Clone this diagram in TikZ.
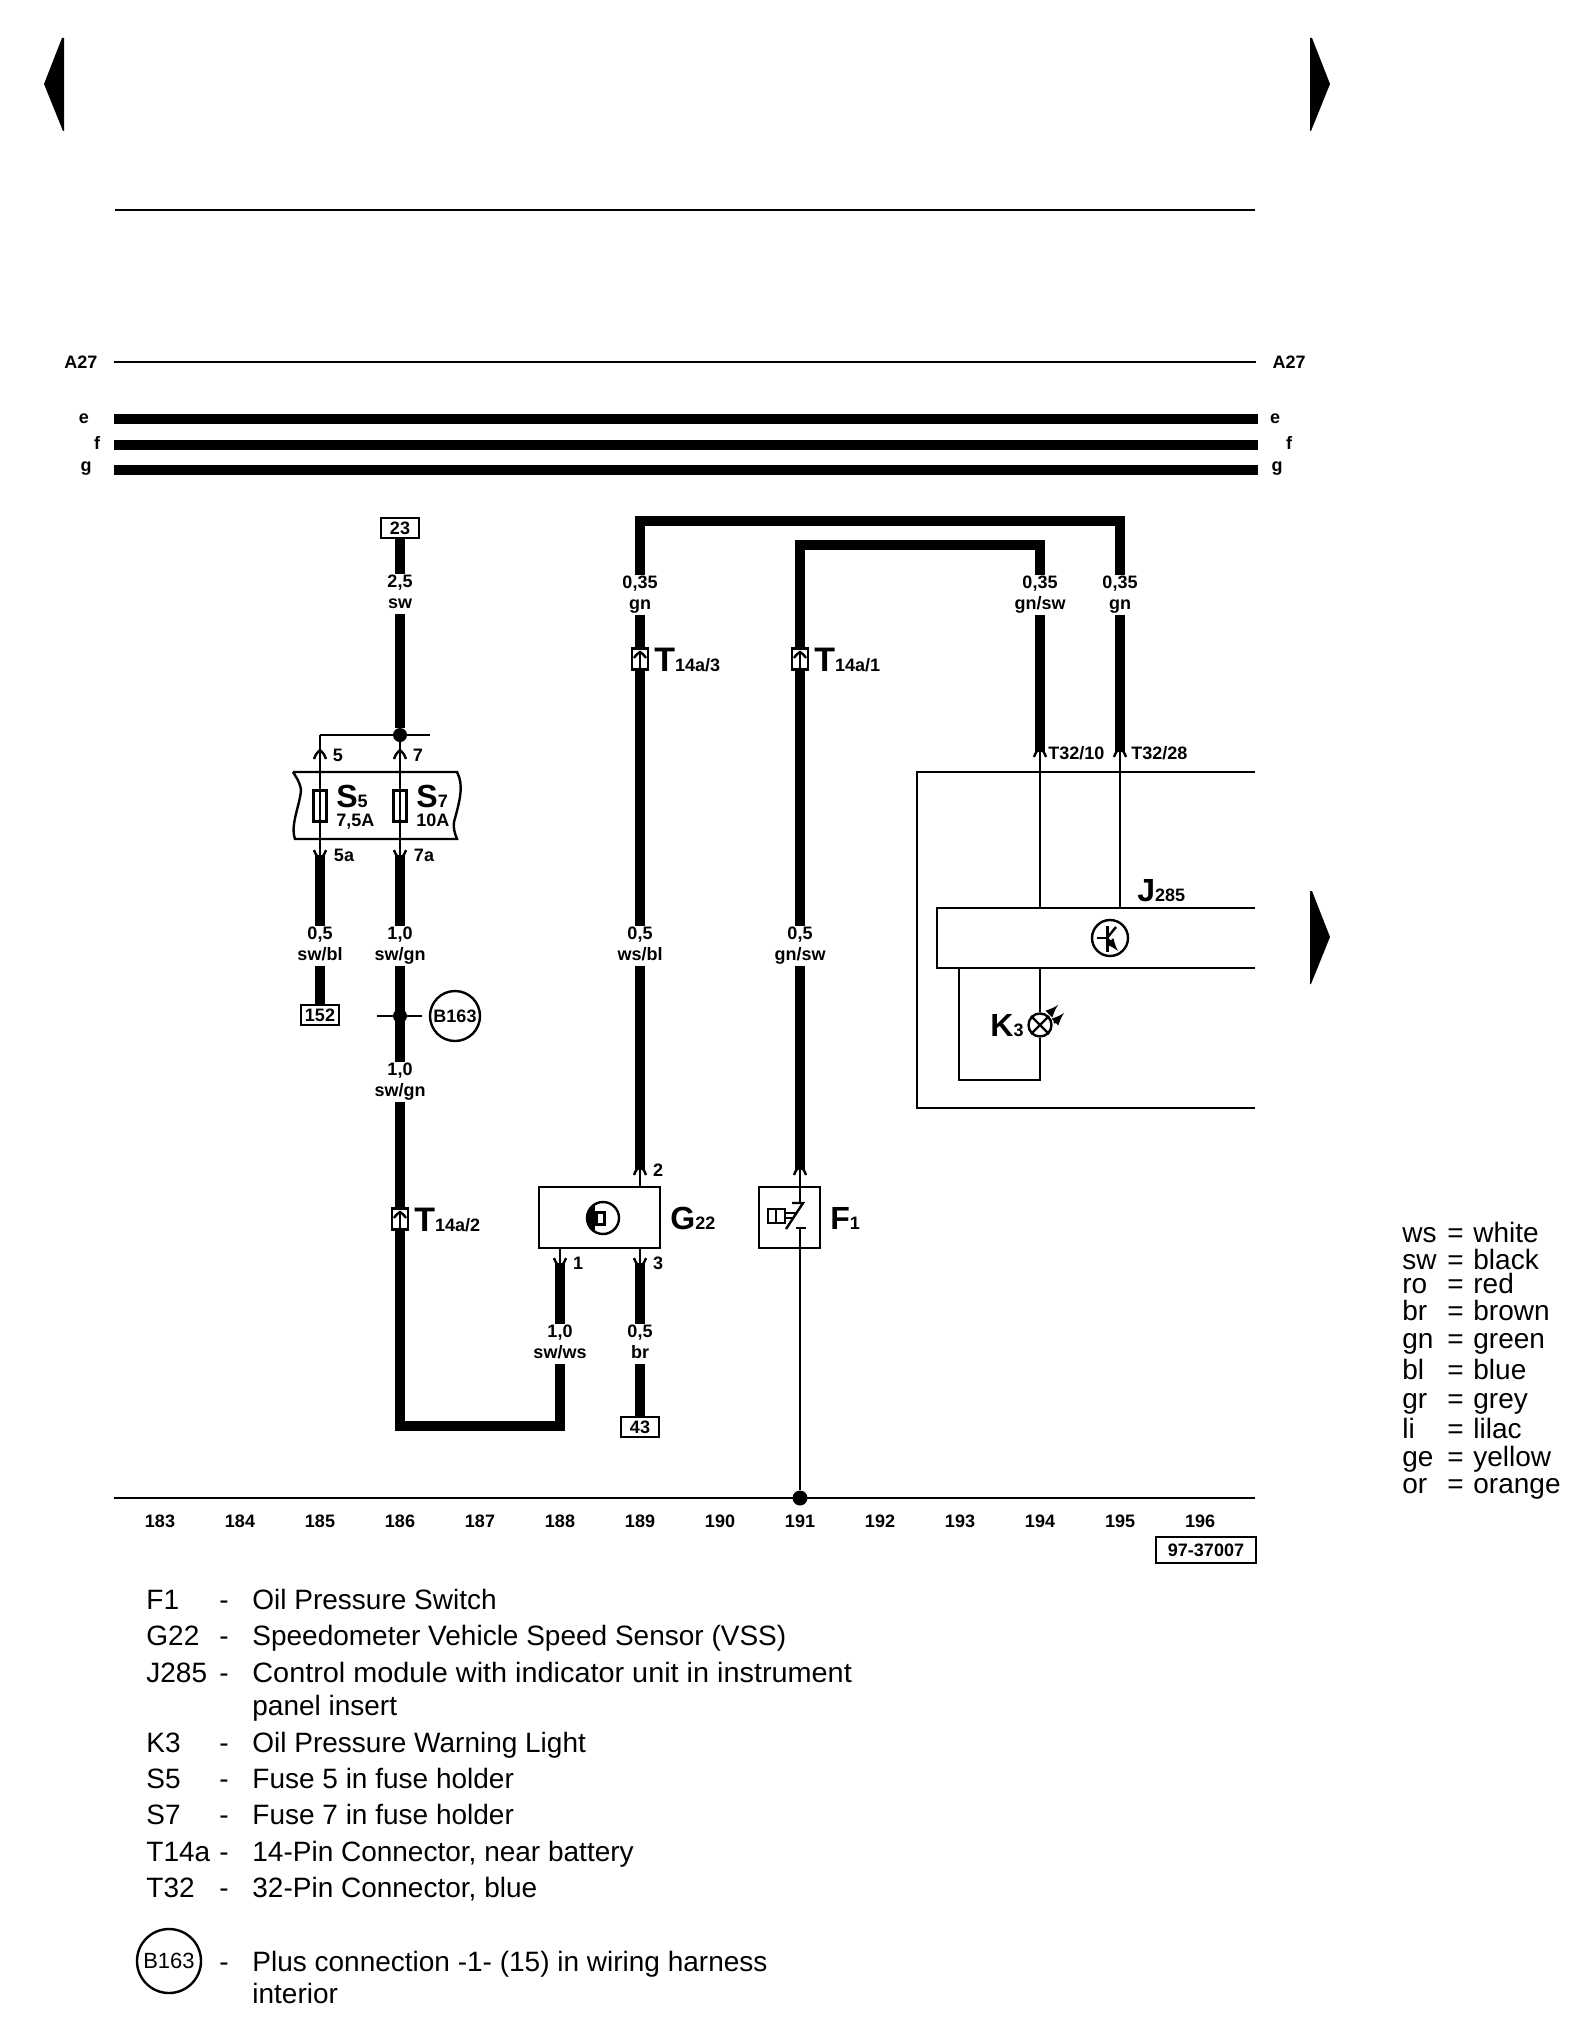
\documentclass[tikz,border=0pt]{standalone}
\usepackage{fontspec}
\setmainfont{Liberation Sans}
\usetikzlibrary{positioning}
\newcommand{\bigsub}[3][16]{{\fontsize{#1}{#1}\selectfont\bfseries #2}{\fontsize{9}{9}\selectfont\bfseries #3}}
\tikzset{
  wire/.style={line width=5pt},
  rail/.style={line width=5pt},
  thinwire/.style={line width=1.2pt},
  gauge/.style={font=\fontsize{9}{10.5}\selectfont\bfseries,align=center,inner sep=0pt,outer sep=0pt,minimum height=20pt,execute at end node=\vphantom{g}},
  tiny label/.style={font=\fontsize{9}{10}\selectfont\bfseries,inner sep=0pt},
  termbox/.style={draw,line width=1.3pt,minimum width=19pt,minimum height=10pt,inner sep=0pt,font=\fontsize{9}{9}\selectfont\bfseries},
  plug/.style={draw,fill=white,line width=1.4pt,minimum width=8pt,minimum height=10.5pt,inner sep=0pt},
  dot/.style={circle,fill,inner sep=0pt,minimum size=7pt},
  legendtext/.style={font=\fontsize{14}{14}\selectfont,anchor=base west,inner sep=0pt},
  pinup/.pic={\draw[line width=1.2pt,line join=round] (-6,5) .. controls (-4,0) .. (0,-4) .. controls (4,0) .. (6,5);},
  pindown/.pic={\draw[line width=1.2pt,line join=round] (-6,-5) .. controls (-4,0) .. (0,4) .. controls (4,0) .. (6,-5);},
  plugmark/.pic={\draw[line width=1.2pt] (-6,-1) .. controls (-3,-5) .. (0,-7) .. controls (3,-5) .. (6,-1); \draw[line width=1.2pt] (0,-7) -- (0,9);}
}
\begin{document}
\begin{tikzpicture}[x=0.5pt,y=-0.5pt]
\useasboundingbox (0,0) rectangle (1584,2028);
% page arrows
\fill (44,84) -- (62,38) -- (64,38) -- (64,131) -- (63,131) -- cycle;
\fill (1330,84) -- (1312,38) -- (1310,38) -- (1310,131) -- (1311,131) -- cycle;
\fill (1330,937) -- (1312,891) -- (1310,891) -- (1310,984) -- (1311,984) -- cycle;
% top lines
\coordinate (headL) at (115,210);
\coordinate (headR) at (1255,210);
\draw[thinwire] (headL) -- (headR);
\node[tiny label] (a27L) at (81,362) {A27};
\node[tiny label] (a27R) at (1289,362) {A27};
\coordinate (a27Lend) at (114,362);
\coordinate (a27Rend) at (1256,362);
\draw[thinwire] (a27Lend) -- (a27Rend);
\coordinate (eL) at (114,419); \coordinate (eR) at (1258,419);
\coordinate (fL) at (114,445); \coordinate (fR) at (1258,445);
\coordinate (gL) at (114,470); \coordinate (gR) at (1258,470);
\draw[rail] (eL) -- (eR);
\draw[rail] (fL) -- (fR);
\draw[rail] (gL) -- (gR);
\node[tiny label] at (84,419) {e};
\node[tiny label] at (97,443) {f};
\node[tiny label] at (86,469) {g};
\node[tiny label] at (1275,419) {e};
\node[tiny label] at (1289,443) {f};
\node[tiny label] at (1277,469) {g};
% bottom line and column numbers
\coordinate (busL) at (114,1498);
\coordinate (busR) at (1255,1498);
\draw[thinwire] (busL) -- (busR);
\foreach \n in {183,...,196}
  \node[tiny label] (col\n) at ({160+80*(\n-183)},1521) {\n};
\node[termbox,minimum width=50pt,minimum height=13pt,line width=1pt] (docno) at (1206,1550) {97-37007};
% column 186 feed
\node[termbox] (t23) at (400,528) {23};
\node[gauge] (g23) at (400,594) {2,5\\sw};
\node[dot] (j1) at (400,735) {};
\draw[wire] (t23) -- (g23);
\draw[wire] (g23) -- (j1);
\coordinate (busS5) at (320,735);
\coordinate (busS7) at (430,735);
\draw[thinwire] (busS5) -- (busS7);
% fuse holder
\draw[line width=1.2pt] (293,772) -- (457,772) .. controls (464,785) and (460,800) .. (454,822) .. controls (453,828) and (455,834) .. (457,839)
  -- (295,839) .. controls (290,825) and (300,805) .. (301,790) .. controls (300,782) and (296,777) .. (293,772);
\node[draw,line width=1.2pt,minimum width=6.5pt,minimum height=15.5pt,inner sep=0pt] (fuse5) at (320,806) {};
\node[draw,line width=1.2pt,minimum width=6.5pt,minimum height=15.5pt,inner sep=0pt] (fuse7) at (400,806) {};
\coordinate (pin5) at (320,754); \coordinate (pin7) at (400,754);
\coordinate (pin5a) at (320,855); \coordinate (pin7a) at (400,855);
\draw[thinwire] (busS5) -- (pin5a);
\draw[thinwire] (j1) -- (pin7a);
\pic at (pin5) {pinup};
\pic at (pin7) {pinup};
\pic at (pin5a) {pindown};
\pic at (pin7a) {pindown};
\node[tiny label] at (338,755) {5};
\node[tiny label] at (418,755) {7};
\node[tiny label] at (344,855) {5a};
\node[tiny label] at (424,855) {7a};
\node[inner sep=0pt,anchor=base west] (s5) at (336,807) {\bigsub{S}{5}};
\node[inner sep=0pt,anchor=base west] (s7) at (416,807) {\bigsub{S}{7}};
\node[tiny label,anchor=base west] at (336,826) {7,5A};
\node[tiny label,anchor=base west] at (416,826) {10A};
% below the fuses
\node[gauge] (g5a) at (320,946) {0,5\\sw/bl};
\node[gauge] (g7a) at (400,946) {1,0\\sw/gn};
\node[termbox] (t152) at (320,1015) {152};
\draw[wire] (pin5a) -- (g5a);
\draw[wire] (g5a) -- (t152);
\draw[wire] (pin7a) -- (g7a);
\node[gauge] (g186) at (400,1082) {1,0\\sw/gn};
\draw[wire] (g7a) -- (g186);
\coordinate (crossL) at (377,1016); \coordinate (crossR) at (422,1016);
\draw[thinwire] (crossL) -- (crossR);
\node[dot] (j2) at (400,1016) {};
\node[draw,circle,line width=1.2pt,minimum size=25pt,inner sep=0pt,font=\fontsize{9}{9}\selectfont\bfseries] (b163) at (455,1016) {B163};
\node[plug] (t14a2) at (400,1219) {};
\pic at (t14a2) {plugmark};
\node[anchor=base west,inner sep=0pt] at (414,1231) {\bigsub[17]{T}{14a/2}};
\coordinate (lowL) at (400,1426);
\coordinate (lowR) at (560,1426);
\node[gauge] (g188) at (560,1344) {1,0\\sw/ws};
\draw[wire] (g186) -- (t14a2) -- (lowL) -- (lowR) -- (g188);
% G22
\node[draw,line width=1.2pt,minimum width=60.5pt,minimum height=30.5pt,inner sep=0pt] (g22) at (599.5,1217.5) {};
\node[anchor=base west,inner sep=0pt] at (670,1229) {\bigsub{G}{22}};
\draw[line width=1.2pt] (603,1218) circle (16);
\begin{scope}
  \clip (603,1218) circle (16);
  \fill (587,1200) rectangle (595,1236);
\end{scope}
\draw[line width=1.5pt] (596,1212) rectangle (604,1224);
\coordinate (pin2) at (640,1170);
\coordinate (pin1) at (560,1263);
\coordinate (pin3) at (640,1263);
\draw[thinwire] (pin2) -- (pin2 |- g22.north);
\draw[thinwire] (pin1 |- g22.south) -- (pin1);
\draw[thinwire] (pin3 |- g22.south) -- (pin3);
\pic at (pin2) {pinup};
\pic at (pin1) {pindown};
\pic at (pin3) {pindown};
\node[tiny label] at (658,1170) {2};
\node[tiny label] at (578,1263) {1};
\node[tiny label] at (658,1263) {3};
\draw[wire] (pin1) -- (g188);
\node[gauge] (g189b) at (640,1344) {0,5\\br};
\node[termbox] (t43) at (640,1427) {43};
\draw[wire] (pin3) -- (g189b);
\draw[wire] (g189b) -- (t43);
% column 189 up to J285
\node[gauge] (g189a) at (640,946) {0,5\\ws/bl};
\node[plug] (t14a3) at (640,659) {};
\pic at (t14a3) {plugmark};
\node[anchor=base west,inner sep=0pt] at (654,671) {\bigsub[17]{T}{14a/3}};
\node[gauge] (g189t) at (640,595) {0,35\\gn};
\node[gauge] (g195) at (1120,595) {0,35\\gn};
\coordinate (topA) at (640,521);
\coordinate (topB) at (1120,521);
\coordinate (pin28) at (1120,752);
\draw[wire] (pin2) -- (g189a);
\draw[wire] (g189a) -- (t14a3) -- (g189t);
\draw[wire] (g189t) -- (topA) -- (topB) -- (g195);
\draw[wire] (g195) -- (pin28);
% column 191 up to J285
\node[gauge] (g191) at (800,946) {0,5\\gn/sw};
\node[plug] (t14a1) at (800,659) {};
\pic at (t14a1) {plugmark};
\node[anchor=base west,inner sep=0pt] at (814,671) {\bigsub[17]{T}{14a/1}};
\node[gauge] (g194) at (1040,595) {0,35\\gn/sw};
\coordinate (topC) at (800,545);
\coordinate (topD) at (1040,545);
\coordinate (pin10) at (1040,752);
\coordinate (pinF) at (800,1170);
\draw[wire] (pinF) -- (g191);
\draw[wire] (g191) -- (t14a1) -- (topC) -- (topD) -- (g194);
\draw[wire] (g194) -- (pin10);
% F1
\node[draw,line width=1.2pt,minimum width=30.5pt,minimum height=30.5pt,inner sep=0pt] (f1) at (789.5,1217.5) {};
\node[anchor=base west,inner sep=0pt] at (830,1229) {\bigsub{F}{1}};
\coordinate (swTop) at (800,1203);
\coordinate (swBot) at (800,1228);
\node[dot,minimum size=7.5pt] (j3) at (800,1498) {};
\draw[thinwire] (pinF) -- (swTop);
\draw[thinwire] (swBot) -- (j3);
\pic at (pinF) {pinup};
\draw[thinwire] (792,1203) -- (803,1203) -- (786,1229);
\draw[thinwire] (796,1228) -- (806,1228);
\draw[thinwire] (768,1209) rectangle (785,1223);
\draw[thinwire] (776,1209) -- (776,1223);
\draw[thinwire] (785,1213) -- (797,1213);
\draw[thinwire] (785,1218) -- (794,1218);
% instrument panel
\coordinate (panelTR) at (1255,772);
\coordinate (panelTL) at (917,772);
\coordinate (panelBL) at (917,1108);
\coordinate (panelBR) at (1255,1108);
\draw[thinwire] (panelTR) -- (panelTL) -- (panelBL) -- (panelBR);
\coordinate (jTR) at (1255,908);
\coordinate (jTL) at (937,908);
\coordinate (jBL) at (937,968);
\coordinate (jBR) at (1255,968);
\draw[thinwire] (jTR) -- (jTL) -- (jBL) -- (jBR);
\draw[thinwire] (pin10) -- (pin10 |- jTL);
\draw[thinwire] (pin28) -- (pin28 |- jTL);
\pic at (pin10) {pinup};
\pic at (pin28) {pinup};
\node[tiny label,anchor=west] at (1048,753) {T32/10};
\node[tiny label,anchor=west] at (1131,753) {T32/28};
\node[anchor=base west,inner sep=0pt] at (1137,901) {\bigsub{J}{285}};
% J285 transistor
\draw[thinwire] (1110,938) circle (18);
\draw[thinwire] (1097,938) -- (1107,938);
\draw[line width=1.5pt] (1107,926) -- (1107,952);
\draw[thinwire] (1107,938) -- (1116,927);
\draw[thinwire,-latex] (1107,938) -- (1118,951);
% K3
\node[draw,circle,line width=1.2pt,minimum size=11.5pt,inner sep=0pt] (k3) at (1040,1025) {};
\draw[thinwire] (k3.north west) -- (k3.south east);
\draw[thinwire] (k3.north east) -- (k3.south west);
\coordinate (k3A) at (1040,1080);
\coordinate (k3B) at (959,1080);
\coordinate (k3C) at (959,968);
\coordinate (k3D) at (1040,968);
\draw[thinwire] (k3D) -- (k3);
\draw[thinwire] (k3) -- (k3A) -- (k3B) -- (k3C);
\draw[thinwire,-latex] (1049,1014) -- (1058,1005);
\draw[thinwire,-latex] (1054,1023) -- (1064,1013);
\node[anchor=base west,inner sep=0pt] at (990,1036) {\bigsub{K}{3}};
% colour key
\foreach \y/\a/\b in {1242/ws/white,1269/sw/black,1293/ro/red,1320/br/brown,1348/gn/green,1379/bl/blue,1408/gr/grey,1438/li/lilac,1466/ge/yellow,1493/or/orange}{
  \node[legendtext] at (1402,\y) {\a};
  \node[legendtext] at (1447,\y) {=};
  \node[legendtext] at (1473,\y) {\b};
}
% component list
\foreach \y/\a/\b in {1609/F1/Oil Pressure Switch,1645/G22/Speedometer Vehicle Speed Sensor (VSS),1752/K3/Oil Pressure Warning Light,1788/S5/Fuse 5 in fuse holder,1824/S7/Fuse 7 in fuse holder,1861/T14a/14-Pin Connector{,} near battery,1897/T32/32-Pin Connector{,} blue}{
  \node[legendtext] at (146,\y) {\a};
  \node[legendtext] at (219,\y) {-};
  \node[legendtext] at (252,\y) {\b};
}
\node[legendtext] at (146,1682) {J285};
\node[legendtext] at (219,1682) {-};
\node[legendtext,xscale=1.03,transform shape] at (252,1682) {Control module with indicator unit in instrument};
\node[legendtext] at (252,1715) {panel insert};
\node[draw,circle,line width=1.2pt,minimum size=32pt,inner sep=0pt,font=\fontsize{11}{11}\selectfont] (b163key) at (169,1961) {B163};
\node[legendtext] at (219,1971) {-};
\node[legendtext] at (252,1971) {Plus connection -1- (15) in wiring harness};
\node[legendtext] at (252,2003) {interior};
\end{tikzpicture}
\end{document}
